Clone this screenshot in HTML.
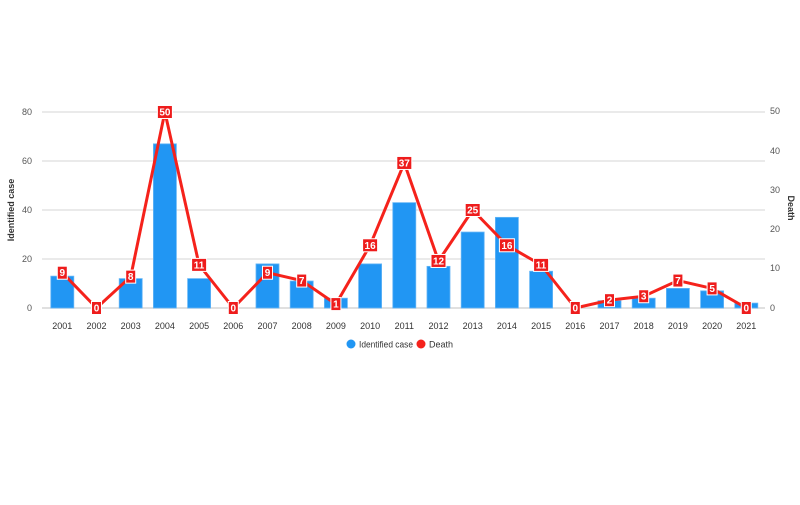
<!DOCTYPE html>
<html><head><meta charset="utf-8"><style>
html,body{margin:0;padding:0;background:#fff;}
svg text{font-family:"Liberation Sans",Arial,sans-serif;}
</style></head><body>
<svg width="800" height="500" viewBox="0 0 800 500" xmlns="http://www.w3.org/2000/svg">
<g stroke="#e3e3e3" stroke-width="1.5">
<line x1="42" y1="112" x2="765" y2="112"/>
<line x1="42" y1="161" x2="765" y2="161"/>
<line x1="42" y1="210" x2="765" y2="210"/>
<line x1="42" y1="259" x2="765" y2="259"/>
</g>
<line x1="42" y1="308" x2="765" y2="308" stroke="#d6d6d6" stroke-width="1.5"/>
<g font-size="9" fill="#555" text-anchor="end">
<text x="32" y="115">80</text><text x="32" y="164">60</text><text x="32" y="213">40</text><text x="32" y="262">20</text><text x="32" y="311">0</text>
</g>
<g font-size="9" fill="#555" text-anchor="start">
<text x="770" y="114">50</text><text x="770" y="154">40</text><text x="770" y="193">30</text><text x="770" y="232">20</text><text x="770" y="271">10</text><text x="770" y="311">0</text>
</g>
<text transform="translate(14,210) rotate(-90)" font-size="9" font-weight="bold" fill="#333" text-anchor="middle">Identified case</text>
<text transform="translate(788,208) rotate(90)" font-size="9" font-weight="bold" fill="#333" text-anchor="middle">Death</text>
<g id="bars" fill="#2196f3" stroke="#64b5f6" stroke-width="0.8"></g>
<g id="xl" font-size="9" fill="#333" text-anchor="middle"></g>
<polyline id="line" fill="none" stroke="#f5221b" stroke-width="3" stroke-linejoin="round"/>
<g id="lbl" font-size="10" font-weight="bold" fill="#fff" text-anchor="middle"></g>
<circle cx="351" cy="344" r="4.5" fill="#2196f3"/>
<text x="359" y="347.5" font-size="9" fill="#333" textLength="54" lengthAdjust="spacingAndGlyphs">Identified case</text>
<circle cx="421" cy="344" r="4.5" fill="#f5221b"/>
<text x="429" y="347.5" font-size="9" fill="#333">Death</text>
<script>
var cases=[13,0,12,67,12,0,18,11,4,18,43,17,31,37,15,0,3,4,8,7,2];
var deaths=[9,0,8,50,11,0,9,7,1,16,37,12,25,16,11,0,2,3,7,5,0];
var ns="http://www.w3.org/2000/svg";
var bars=document.getElementById('bars'),xl=document.getElementById('xl'),lbl=document.getElementById('lbl');
var pts=[];
for(var i=0;i<21;i++){
 var cx=62.3+34.2*i;
 var h=cases[i]*2.45;
 if(h>0){var r=document.createElementNS(ns,'rect');r.setAttribute('x',cx-11.5);r.setAttribute('y',308-h);r.setAttribute('width',23);r.setAttribute('height',h);bars.appendChild(r);}
 var t=document.createElementNS(ns,'text');t.setAttribute('x',cx);t.setAttribute('y',329);t.textContent=2001+i;xl.appendChild(t);
 var y=308-deaths[i]*3.92;pts.push(cx+','+y);
 var s=String(deaths[i]);var w=s.length>1?15:10;
 var b=document.createElementNS(ns,'rect');b.setAttribute('x',cx-w/2);b.setAttribute('y',y-6.5);b.setAttribute('width',w);b.setAttribute('height',13);b.setAttribute('fill','#ee1c1c');b.setAttribute('stroke','#fff');b.setAttribute('stroke-width','1');lbl.appendChild(b);
 var tt=document.createElementNS(ns,'text');tt.setAttribute('x',cx);tt.setAttribute('y',y+3.5);tt.textContent=s;lbl.appendChild(tt);
}
document.getElementById('line').setAttribute('points',pts.join(' '));
</script>
</svg>
</body></html>
